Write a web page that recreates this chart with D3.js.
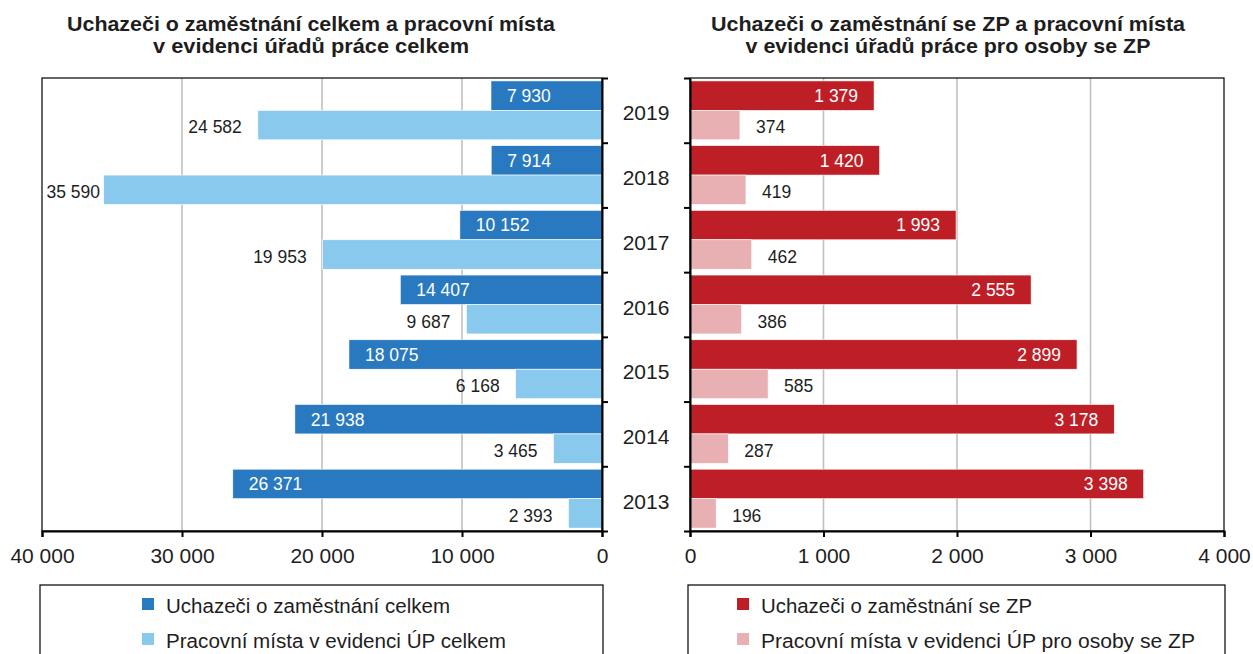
<!DOCTYPE html>
<html>
<head>
<meta charset="utf-8">
<script src="https://cdnjs.cloudflare.com/ajax/libs/d3/7.8.5/d3.min.js"></script>
<style>
	body { margin: 0; background: #fff; }
	text { font-family: "Liberation Sans", Arial, sans-serif; fill: #1e1e1e; }
</style>
</head>
<body>
<div id="chart-area"></div>
<script>
/*
*    two mirrored bar charts - job seekers vs. vacancies
*/

// data (top row first)
var years = ["2019", "2018", "2017", "2016", "2015", "2014", "2013"]
var uchazeciCelkem = [7930, 7914, 10152, 14407, 18075, 21938, 26371]
var mistaCelkem = [24582, 35590, 19953, 9687, 6168, 3465, 2393]
var uchazeciZP = [1379, 1420, 1993, 2555, 2899, 3178, 3398]
var mistaZP = [374, 419, 462, 386, 585, 287, 196]
var ticksLeft = [40000, 30000, 20000, 10000, 0]
var ticksRight = [0, 1000, 2000, 3000, 4000]

var W = 1253, H = 654
var plotTop = 78, plotBottom = 531

var svg = d3.select("#chart-area")
	.append("svg")
		.attr("width", W)
		.attr("height", H)

// czech number format, space as thousands separator
var fmt = d3.formatLocale({ decimal: ",", thousands: "\u00a0", grouping: [3], currency: ["", ""] }).format(",d")

// shared band scales
var y = d3.scaleBand()
	.domain(years)
	.range([plotTop, plotBottom])
	.paddingInner(0.09)
	.paddingOuter(0.045)
var inner = d3.scaleBand()
	.domain([0, 1])
	.range([0, y.bandwidth()])
// band boundaries for the small ticks
var yEdges = d3.scaleLinear()
	.domain([0, years.length])
	.range([plotTop, plotBottom])

function drawPanel(opts) {
	var x = opts.x
	var dir = opts.dir
	var g = svg.append("g")
	var xr = x.range()
	var x0 = Math.min(xr[0], xr[1]), x1 = Math.max(xr[0], xr[1])

	// gridlines
	g.selectAll(".grid")
		.data(opts.ticks.filter(d => x(d) > x0 + 1 && x(d) < x1 - 1))
		.enter().append("line")
		.attr("x1", d => x(d))
		.attr("x2", d => x(d))
		.attr("y1", plotTop)
		.attr("y2", plotBottom)
		.attr("stroke", "#c0c0c0")
		.attr("stroke-width", 1.6)

	// bars + labels
	opts.series.forEach((s, si) => {
		g.selectAll(null)
			.data(s.values)
			.enter().append("rect")
			.attr("x", d => Math.min(x(d), x(0)))
			.attr("width", d => Math.abs(x(d) - x(0)))
			.attr("y", (d, i) => y(years[i]) + inner(si))
			.attr("height", inner.bandwidth())
			.attr("fill", s.color)
			.attr("stroke", "#fff")
			.attr("stroke-width", 0.6)

		g.selectAll(null)
			.data(s.values)
			.enter().append("text")
			// first series inside the bar end, second outside (kept inside the frame)
			.attr("x", d => {
				if (si == 0) return x(d) - dir * 16
				var lx = x(d) + dir * 16
				return dir < 0 ? Math.max(lx, x0 + 58) : Math.min(lx, x1 - 58)
			})
			.attr("y", (d, i) => y(years[i]) + inner(si) + inner.bandwidth() / 2 + (si == 0 ? 0 : 2))
			.attr("dy", "0.36em")
			.attr("text-anchor", (si == 0) == (dir < 0) ? "start" : "end")
			.attr("font-size", "17.5px")
			.style("fill", si == 0 ? "#fff" : "#1e1e1e")
			.text(d => fmt(d))
	})

	// frame
	g.append("rect")
		.attr("x", x0)
		.attr("y", plotTop)
		.attr("width", x1 - x0)
		.attr("height", plotBottom - plotTop)
		.attr("fill", "none")
		.attr("stroke", "#000")
		.attr("stroke-width", 1.2)

	// x axis
	var xAxisCall = d3.axisBottom(x)
		.tickValues(opts.ticks)
		.tickSizeOuter(0)
		.tickSize(6)
		.tickPadding(11)
		.tickFormat(fmt)
	var xa = g.append("g")
		.attr("transform", "translate(0," + plotBottom + ")")
		.call(xAxisCall)
	xa.select(".domain").attr("stroke-width", 2)
	xa.selectAll("line").attr("stroke-width", 2)
	xa.selectAll("text")
		.attr("font-size", "21px")
		.attr("font-family", "'Liberation Sans', Arial, sans-serif")
		.style("fill", "#1e1e1e")

	// y axis ticks at category edges
	var yAxisCall = (dir < 0 ? d3.axisRight(yEdges) : d3.axisLeft(yEdges))
		.tickValues(d3.range(years.length + 1))
		.tickSize(6)
		.tickSizeOuter(0)
		.tickFormat("")
	var ya = g.append("g")
		.attr("transform", "translate(" + x(0) + ",0)")
		.call(yAxisCall)
	ya.select(".domain").attr("stroke-width", 2)
	ya.selectAll("line").attr("stroke-width", 2)

	// title
	opts.title.forEach((t, i) => {
		g.append("text")
			.attr("x", opts.titleX)
			.attr("y", 31 + i * 22)
			.attr("text-anchor", "middle")
			.attr("font-size", "21px")
			.attr("font-weight", "bold")
			.attr("textLength", opts.titleLen[i])
			.attr("lengthAdjust", "spacingAndGlyphs")
			.text(t)
	})

	// legend
	var lg = g.append("g")
	lg.append("rect")
		.attr("x", x0 - 2)
		.attr("y", 585)
		.attr("width", x1 - x0 + 3)
		.attr("height", 100)
		.attr("fill", "none")
		.attr("stroke", "#000")
		.attr("stroke-width", 1.2)
	opts.series.forEach((s, i) => {
		var row = lg.append("g")
			.attr("transform", "translate(" + opts.legendX + "," + (598 + i * 35) + ")")
		row.append("rect")
			.attr("width", 12)
			.attr("height", 12)
			.attr("fill", s.color)
		row.append("text")
			.attr("x", 24)
			.attr("y", 15)
			.attr("font-size", "20px")
			.attr("textLength", s.len)
			.attr("lengthAdjust", "spacingAndGlyphs")
			.text(s.name)
	})
}

drawPanel({
	x: d3.scaleLinear().domain([40000, 0]).range([42, 602]),
	dir: -1,
	ticks: ticksLeft,
	title: ["Uchazeči o zaměstnání celkem a pracovní místa", "v evidenci úřadů práce celkem"],
	titleX: 311,
	titleLen: [488, 316],
	legendX: 142,
	series: [
		{ name: "Uchazeči o zaměstnání celkem", values: uchazeciCelkem, color: "#2979c1", len: 284 },
		{ name: "Pracovní místa v evidenci ÚP celkem", values: mistaCelkem, color: "#89c9ee", len: 340 }
	]
})

drawPanel({
	x: d3.scaleLinear().domain([0, 4000]).range([690, 1224]),
	dir: 1,
	ticks: ticksRight,
	title: ["Uchazeči o zaměstnání se ZP a pracovní místa", "v evidenci úřadů práce pro osoby se ZP"],
	titleX: 948,
	titleLen: [474, 405],
	legendX: 737,
	series: [
		{ name: "Uchazeči o zaměstnání se ZP", values: uchazeciZP, color: "#be1f26", len: 271 },
		{ name: "Pracovní místa v evidenci ÚP pro osoby se ZP", values: mistaZP, color: "#e8b0b2", len: 434 }
	]
})

// year labels between the panels
svg.selectAll(".year")
	.data(years)
	.enter().append("text")
	.attr("x", 646)
	.attr("y", d => y(d) + y.bandwidth() / 2 + 10)
	.attr("text-anchor", "middle")
	.attr("font-size", "21px")
	.text(d => d)
</script>
</body>
</html>
